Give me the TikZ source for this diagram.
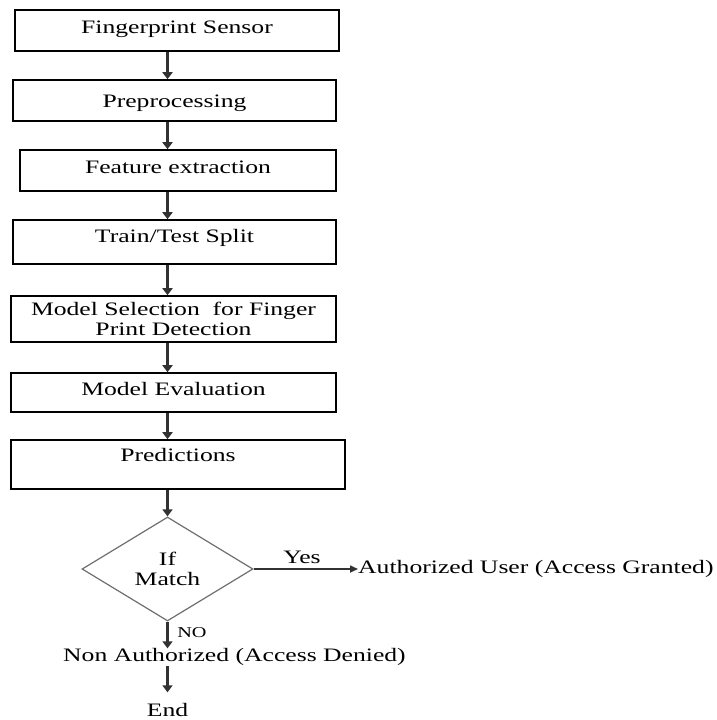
\documentclass[tikz,border=0pt]{standalone}
\usepackage{fontspec}
\setmainfont[FakeStretch=1.35]{Liberation Serif}
\usepackage{tikz}
\usepackage{xcolor}
\usetikzlibrary{arrows.meta,shapes.geometric}
\definecolor{arrowgray}{RGB}{50,50,50}
\definecolor{diagray}{RGB}{110,110,110}

\begin{document}
\begin{tikzpicture}[x=1pt,y=-1pt,
        every node/.style={font=\fontsize{19}{20}\selectfont},
        stepbox/.style={draw=black,line width=1.6pt,rectangle,inner sep=0pt,align=center},
        flow/.style={arrowgray,line width=2.2pt,-{Triangle[length=7pt,width=10pt]}},
        plain/.style={inner sep=0pt,text height=13pt,text depth=4pt}]
        \useasboundingbox (0,0) rectangle (717,720);
        \node[stepbox,minimum width=324pt,minimum height=41pt,text height=13pt,text depth=7.4pt] (sensor) at (177,30.5) {Fingerprint Sensor};
        \node[stepbox,minimum width=323pt,minimum height=41pt,text height=13pt,text depth=0pt] (prep) at (174.5,100.5) {Preprocessing};
        \node[stepbox,minimum width=316pt,minimum height=41pt,text height=13pt,text depth=7.4pt] (feat) at (178,170.5) {Feature extraction};
        \node[stepbox,minimum width=323pt,minimum height=44pt,text height=13pt,text depth=11.4pt] (split) at (174.5,242) {Train/Test Split};
        \node[stepbox,minimum width=325pt,minimum height=46pt] (select) at (173.5,319) {Model Selection~ for Finger\\Print Detection};
        \node[stepbox,minimum width=325pt,minimum height=39pt,text height=13pt,text depth=7.4pt] (eval) at (173.5,392.5) {Model Evaluation};
        \node[stepbox,minimum width=334pt,minimum height=49pt,text height=13pt,text depth=19.5pt] (pred) at (178,464.5) {Predictions};
        \node[diamond,draw=diagray,line width=1.2pt,inner sep=0pt,minimum width=171pt,minimum height=104pt,align=center] (match) at (167.5,569) {If\\Match};
        \node[plain,anchor=west] (granted) at (358,569) {Authorized User (Access Granted)};
        \node[plain,anchor=west] (denied) at (63,657) {Non Authorized (Access Denied)};
        \node[plain] (finish) at (167.5,712) {End};
        \node[plain] (yes) at (302,559) {Yes};
        \node[plain,font=\fontsize{15}{16}\selectfont] (no) at (192,633) {NO};
        \draw[flow] (sensor.south -| match.north) -- (prep.north -| match.north);
        \draw[flow] (prep.south -| match.north) -- (feat.north -| match.north);
        \draw[flow] (feat.south -| match.north) -- (split.north -| match.north);
        \draw[flow] (split.south -| match.north) -- (select.north -| match.north);
        \draw[flow] (select.south -| match.north) -- (eval.north -| match.north);
        \draw[flow] (eval.south -| match.north) -- (pred.north -| match.north);
        \draw[flow] (pred.south -| match.north) -- (match.north);
        \draw[flow,line width=1.6pt,-{Triangle[length=8pt,width=7pt]}] (match.east) -- (granted.west);
        \draw[flow] (match.south) -- (denied.north -| match.south);
        \draw[flow,shorten >=11pt] (denied.south -| match.south) -- (finish.north);
\end{tikzpicture}
\end{document}
